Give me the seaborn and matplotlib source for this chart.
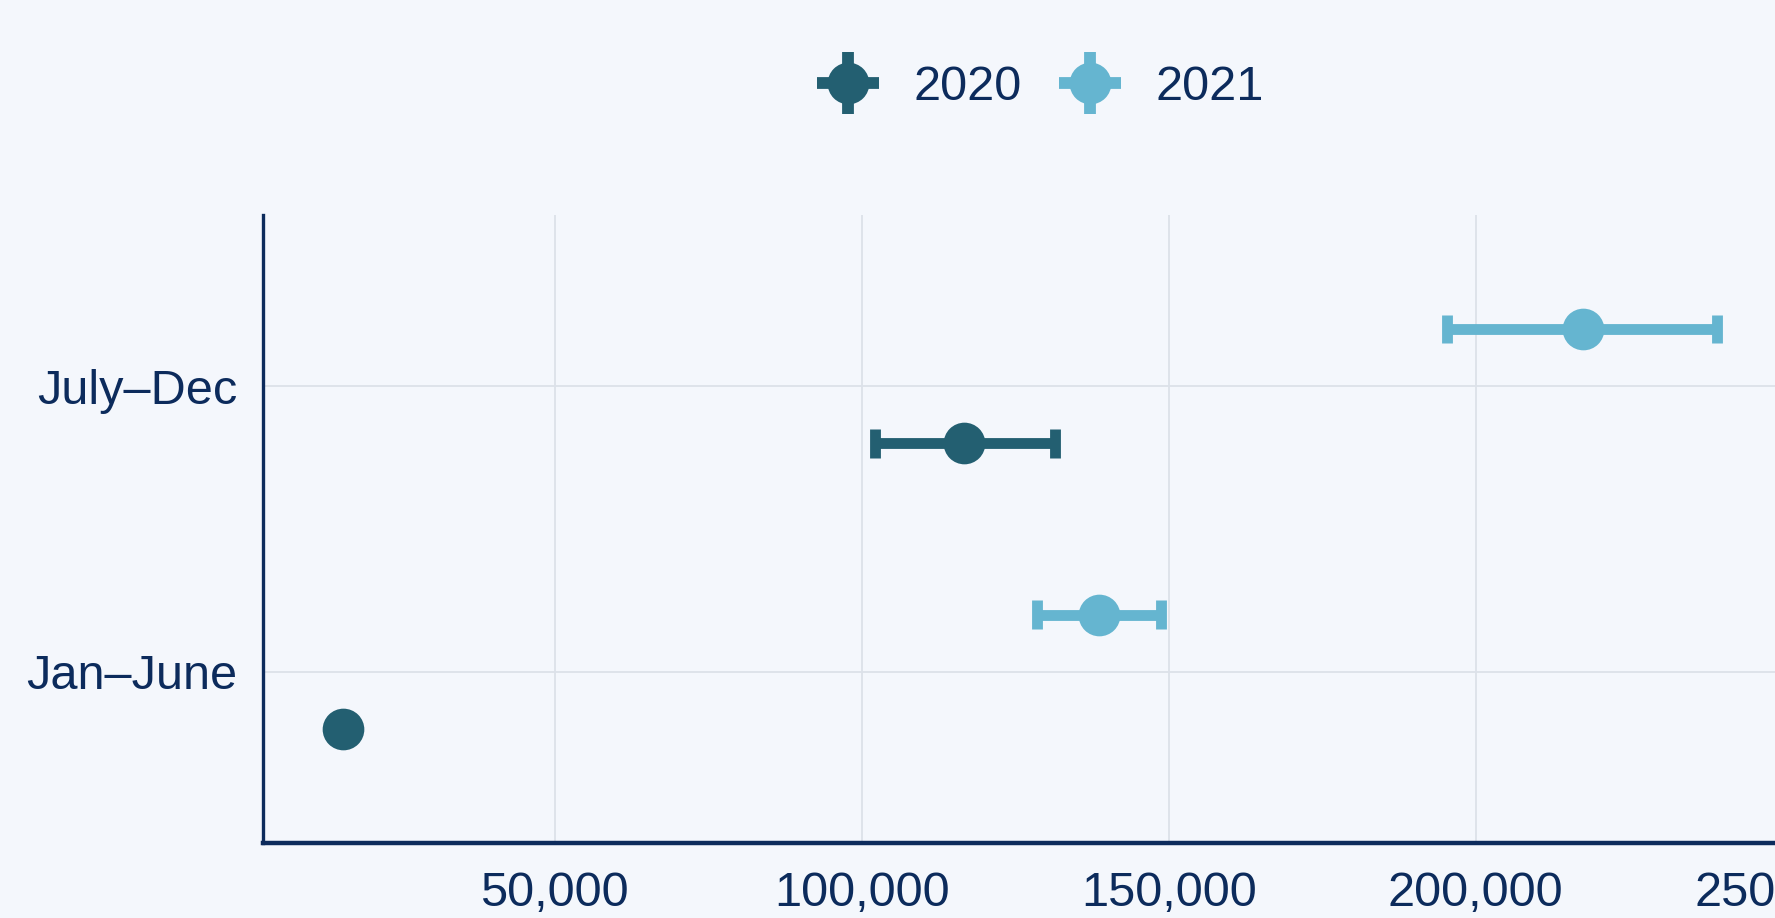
import numpy as np
import pandas as pd
import seaborn as sns
import matplotlib.pyplot as plt
from matplotlib.lines import Line2D
from matplotlib.legend_handler import HandlerTuple
from matplotlib.ticker import FuncFormatter

periods = ["Jan–June", "July–Dec"]
years = ["2020", "2021"]
# point estimate plus interval bounds, per period
mid_2020 = [15500, 116700]
low_2020 = [15500, 102200]
high_2020 = [15500, 131500]
mid_2021 = [138600, 217500]
low_2021 = [128500, 195400]
high_2021 = [148800, 239300]
x_ticks = [50000, 100000, 150000, 200000, 250000]

bg = "#f4f7fc"
navy = "#0c2b5c"
colors = {"2020": "#235f71", "2021": "#65b5d0"}

sns.set_style("white")
plt.rcParams["font.family"] = ["Liberation Sans", "DejaVu Sans"]

# long form: three rows per point (low, mid, high) -> median + full range
rows = []
for yr, lo, md, hi in [("2020", low_2020, mid_2020, high_2020),
                       ("2021", low_2021, mid_2021, high_2021)]:
    for p, a, b, c in zip(periods, lo, md, hi):
        for v in (a, b, c):
            rows.append({"period": p, "year": yr, "value": v})
df = pd.DataFrame(rows)

fig = plt.figure(figsize=(17.75, 9.18), dpi=100, facecolor=bg)
ax = fig.add_axes([262.6 / 1775, 75 / 918, 0.891, 628 / 918])
ax.set_facecolor(bg)

sns.pointplot(data=df, x="value", y="period", hue="year",
              order=periods, hue_order=years, palette=colors,
              estimator="median", errorbar=("pi", 100),
              dodge=0.4, linestyle="none", markers="o",
              markersize=30, markeredgewidth=0,
              err_kws={"linewidth": 7.8, "solid_capstyle": "butt"},
              capsize=0.1, legend=False, ax=ax)

ax.set_ylim(-0.6, 1.6)
ax.set_xlim(2430, 260000)
ax.set_xticks(x_ticks)
ax.xaxis.set_major_formatter(FuncFormatter(lambda v, p: f"{v:,.0f}"))
ax.set_xlabel("")
ax.set_ylabel("")

ax.grid(True, color="#dce1e9", linewidth=1.3)
ax.set_axisbelow(True)
for s in ["top", "right"]:
    ax.spines[s].set_visible(False)
ax.spines["left"].set_color(navy)
ax.spines["left"].set_linewidth(2.4)
ax.spines["bottom"].set_color(navy)
ax.spines["bottom"].set_linewidth(3.2)
ax.tick_params(axis="both", length=10, width=2, color=navy,
               labelcolor=navy, labelsize=35)
ax.tick_params(axis="y", pad=8)
ax.tick_params(axis="x", pad=10)

handles = []
for yr in years:
    c = colors[yr]
    cross = Line2D([], [], marker="+", markersize=44, markeredgewidth=8.5,
                   color=c, linestyle="none")
    dot = Line2D([], [], marker="o", markersize=30, markeredgewidth=0,
                 color=c, linestyle="none")
    handles.append((cross, dot))
fig.legend(handles, years, loc="center", bbox_to_anchor=(0.586, 1 - 88 / 918),
           ncol=2, frameon=False, fontsize=35, labelcolor=navy,
           handler_map={tuple: HandlerTuple(ndivide=1)},
           handlelength=1.3, handletextpad=0.7, columnspacing=0.75)

fig.savefig("out.png", dpi=100, facecolor=bg)
